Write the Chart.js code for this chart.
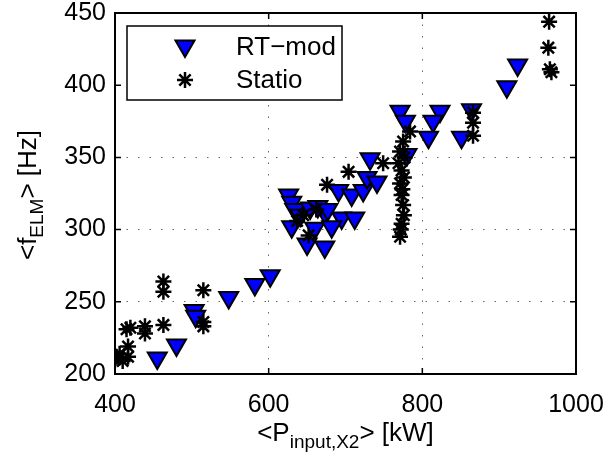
<!DOCTYPE html>
<html lang="en">
<head>
    <meta charset="UTF-8">
    <title>ELM frequency vs input power</title>
    <script src="https://cdn.jsdelivr.net/npm/chart.js"></script>
    <style>
        body { margin: 0; background: #fff; }
        canvas { display: block; }
    </style>
</head>
<body>
    <canvas id="elm" width="606" height="453"></canvas>

    <script>
        // RT-mod series: input power [kW] and mean ELM frequency [Hz]
        const rtPower = [455, 480, 503, 505, 548, 582, 602, 630, 650, 626, 630, 634, 641, 654, 673, 695, 712, 660, 682, 673, 691, 708, 723, 728, 741, 732, 771, 778, 780, 823, 814, 808, 864, 851, 910, 924, 664, 677];
        const rtFreq = [211, 220, 244, 240, 253, 262, 268, 302, 290, 324, 319, 314, 310, 315, 312, 308, 308, 301, 302, 288, 327, 324, 327, 336, 333, 349, 382, 375, 352, 382, 375, 364, 383, 364, 399, 414, 316, 314];

        // Statio series
        const stPower = [402, 400, 406, 417, 417, 415, 420, 410, 439, 439, 463, 463, 463, 515, 515, 515,
                         645, 662, 652, 637, 676, 704, 749,
                         784, 775, 771, 769, 773, 771, 773, 775, 776, 773, 771, 777, 772, 774, 776,
                         866, 866, 866, 965, 964, 966, 968];
        const stFreq = [212, 210, 214, 212, 219, 231, 232, 209, 233, 228, 234, 264, 257, 258, 236, 233,
                        310, 314, 296, 306, 331, 340, 346,
                        368, 361, 354, 346, 341, 332, 324, 317, 310, 304, 295, 350, 300, 328, 336,
                        381, 374, 365, 444, 426, 411, 409];

        const xTicks = [400, 600, 800, 1000];
        const yTicks = [200, 250, 300, 350, 400, 450];
        const seriesNames = ['RT\u2212mod', 'Statio'];

        const FONT = 'Liberation Sans, Arial, Helvetica, sans-serif';

        const toPoints = (xs, ys) => xs.map((x, i) => ({ x: x, y: ys[i] }));

        // draws the downward triangle / asterisk markers used in the legend
        function drawMarker(ctx, kind, x, y) {
            ctx.save();
            ctx.strokeStyle = '#000';
            if (kind === 0) {
                const r = 11;
                ctx.lineWidth = 2;
                ctx.beginPath();
                ctx.moveTo(x, y + r);
                ctx.lineTo(x - r * Math.sqrt(3) / 2, y - r / 2);
                ctx.lineTo(x + r * Math.sqrt(3) / 2, y - r / 2);
                ctx.closePath();
                ctx.fillStyle = '#0000ff';
                ctx.fill();
                ctx.stroke();
            } else {
                const r = 8;
                ctx.lineWidth = 2.5;
                ctx.beginPath();
                for (let k = 0; k < 4; k++) {
                    const a = k * Math.PI / 4;
                    ctx.moveTo(x - r * Math.cos(a), y - r * Math.sin(a));
                    ctx.lineTo(x + r * Math.cos(a), y + r * Math.sin(a));
                }
                ctx.stroke();
            }
            ctx.restore();
        }

        // frame, inward ticks, axis titles with subscripts, legend
        const decorations = {
            id: 'decorations',
            afterDraw(chart) {
                const ctx = chart.ctx;
                const a = chart.chartArea;
                const xs = chart.scales.x, ys = chart.scales.y;

                ctx.save();
                ctx.strokeStyle = '#000';
                ctx.lineWidth = 2;
                ctx.strokeRect(a.left, a.top, a.right - a.left, a.bottom - a.top);

                ctx.lineWidth = 1.5;
                ctx.beginPath();
                xTicks.forEach(v => {
                    const px = xs.getPixelForValue(v);
                    ctx.moveTo(px, a.bottom); ctx.lineTo(px, a.bottom - 6);
                    ctx.moveTo(px, a.top); ctx.lineTo(px, a.top + 6);
                });
                yTicks.forEach(v => {
                    const py = ys.getPixelForValue(v);
                    ctx.moveTo(a.left, py); ctx.lineTo(a.left + 6, py);
                    ctx.moveTo(a.right, py); ctx.lineTo(a.right - 6, py);
                });
                ctx.stroke();

                ctx.fillStyle = '#000';
                ctx.textBaseline = 'alphabetic';

                // x title: <P_{input,X2}> [kW]
                const parts = [
                    { t: '<P', sub: false },
                    { t: 'input,X2', sub: true },
                    { t: '> [kW]', sub: false }
                ];
                const mainFont = '26px ' + FONT, subFont = '19px ' + FONT;
                let w = 0;
                parts.forEach(p => { ctx.font = p.sub ? subFont : mainFont; p.w = ctx.measureText(p.t).width; w += p.w; });
                let cx = (a.left + a.right) / 2 - w / 2;
                const base = 441;
                parts.forEach(p => {
                    ctx.font = p.sub ? subFont : mainFont;
                    ctx.fillText(p.t, cx, p.sub ? base + 7 : base);
                    cx += p.w;
                });

                // y title: <f_{ELM}> [Hz]
                const yparts = [
                    { t: '<f', sub: false },
                    { t: 'ELM', sub: true },
                    { t: '> [Hz]', sub: false }
                ];
                w = 0;
                yparts.forEach(p => { ctx.font = p.sub ? subFont : mainFont; p.w = ctx.measureText(p.t).width; w += p.w; });
                ctx.save();
                ctx.translate(36, 195);
                ctx.rotate(-Math.PI / 2);
                let cy = -w / 2;
                yparts.forEach(p => {
                    ctx.font = p.sub ? subFont : mainFont;
                    ctx.fillText(p.t, cy, p.sub ? 7 : 0);
                    cy += p.w;
                });
                ctx.restore();

                // legend
                ctx.fillStyle = '#fff';
                ctx.fillRect(127, 26, 215, 74);
                ctx.lineWidth = 1.5;
                ctx.strokeStyle = '#000';
                ctx.strokeRect(127, 26, 215, 74);
                drawMarker(ctx, 0, 185, 46);
                drawMarker(ctx, 1, 185, 80);
                ctx.fillStyle = '#000';
                ctx.font = mainFont;
                ctx.textBaseline = 'middle';
                ctx.fillText(seriesNames[0], 236, 48);
                ctx.fillText(seriesNames[1], 236, 81);
                ctx.restore();
            }
        };

        const gridColor = ctx => {
            const v = ctx.tick && ctx.tick.value;
            return (v === 400 || v === 1000 || v === 200 || v === 450) ? 'rgba(0,0,0,0)' : 'rgba(0,0,0,0.6)';
        };

        new Chart(document.getElementById('elm'), {
            type: 'scatter',
            data: {
                datasets: [{
                    label: seriesNames[0],
                    data: toPoints(rtPower, rtFreq),
                    pointStyle: 'triangle',
                    rotation: 180,
                    radius: 11,
                    backgroundColor: '#0000ff',
                    borderColor: '#000',
                    borderWidth: 2,
                    order: 2
                }, {
                    label: seriesNames[1],
                    data: toPoints(stPower, stFreq),
                    pointStyle: 'star',
                    radius: 8,
                    backgroundColor: '#000',
                    borderColor: '#000',
                    borderWidth: 2.5,
                    order: 1
                }]
            },
            options: {
                responsive: false,
                animation: false,
                events: [],
                layout: { padding: { top: 13, right: 30, left: 0, bottom: 0 } },
                plugins: { legend: { display: false }, tooltip: { enabled: false } },
                scales: {
                    x: {
                        type: 'linear',
                        min: 400,
                        max: 1000,
                        afterBuildTicks: s => { s.ticks = xTicks.map(v => ({ value: v })); },
                        afterFit: s => { s.height = 79; s.paddingLeft = 0; s.paddingRight = 0; },
                        ticks: { color: '#000', font: { family: FONT, size: 25 }, padding: 16, autoSkip: false, maxRotation: 0, callback: v => String(v) },
                        grid: { drawTicks: false, color: gridColor, lineWidth: 1 },
                        border: { display: false, dash: [1.5, 10] }
                    },
                    y: {
                        type: 'linear',
                        min: 200,
                        max: 450,
                        afterBuildTicks: s => { s.ticks = yTicks.map(v => ({ value: v })); },
                        afterFit: s => { s.width = 115; s.paddingTop = 0; s.paddingBottom = 0; },
                        ticks: { color: '#000', font: { family: FONT, size: 25 }, padding: 9, autoSkip: false, callback: v => String(v) },
                        grid: { drawTicks: false, color: gridColor, lineWidth: 1 },
                        border: { display: false, dash: [1.5, 10] }
                    }
                }
            },
            plugins: [decorations]
        });
    </script>
</body>
</html>
